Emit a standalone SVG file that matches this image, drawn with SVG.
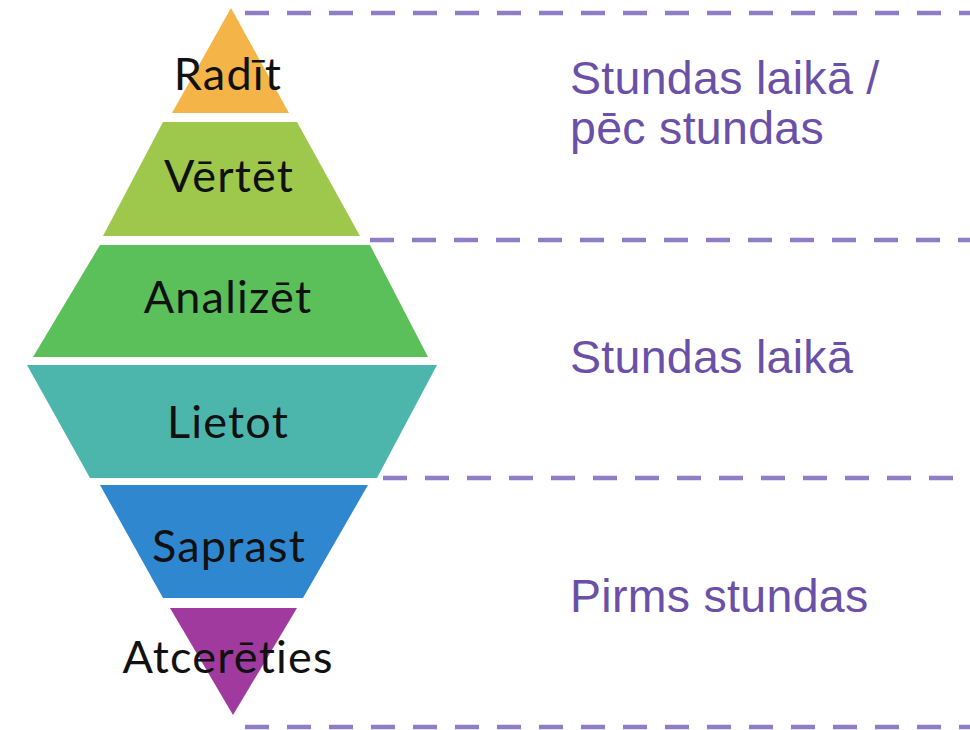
<svg xmlns="http://www.w3.org/2000/svg" width="970" height="730" viewBox="0 0 970 730">
<style>
.lvl{font-family:Lato,"Open Sans","DejaVu Sans",sans-serif;font-size:45px;letter-spacing:1.2px;fill:#111;text-anchor:middle}
.phase{font-family:"Liberation Sans",Arial,sans-serif;font-size:46.5px;letter-spacing:0.3px;fill:#6A50A7}
.dash{stroke:#8F7DC6;stroke-width:4.5;stroke-dasharray:24 18;fill:none}
</style>
<rect width="970" height="730" fill="#ffffff"/>
<g id="connectors">
<line class="dash" x1="245" y1="13" x2="970" y2="13"/>
<line class="dash" x1="370" y1="240" x2="970" y2="240"/>
<line class="dash" x1="383" y1="478" x2="970" y2="478"/>
<line class="dash" x1="245" y1="727" x2="970" y2="727"/>
</g>
<g id="radit">
<polygon points="231,8 289,113 172,113" fill="#F4B447"/>
<text class="lvl" x="228" y="90">Radīt</text>
</g>
<g id="vertet">
<polygon points="163,122 297,122 360,236 103,236" fill="#9DC84B"/>
<text class="lvl" x="229" y="192">Vērtēt</text>
</g>
<g id="analizet">
<polygon points="100,245 370,245 428,357 33,357" fill="#5BBF5A"/>
<text class="lvl" x="228" y="313">Analizēt</text>
</g>
<g id="lietot">
<polygon points="27,365 437,365 377,478 90,478" fill="#4DB6AC"/>
<text class="lvl" x="228" y="438">Lietot</text>
</g>
<g id="saprast">
<polygon points="100,485 368,485 303,598 163,598" fill="#2F87D0"/>
<text class="lvl" x="229" y="562">Saprast</text>
</g>
<g id="atceraties">
<polygon points="170,608 297,608 233,715" fill="#A13A9E"/>
<text class="lvl" x="228" y="673">Atcerēties</text>
</g>
<g id="phase1">
<text class="phase" x="570" y="94">Stundas laikā /</text>
<text class="phase" x="570" y="144">pēc stundas</text>
</g>
<g id="phase2">
<text class="phase" x="570" y="373">Stundas laikā</text>
</g>
<g id="phase3">
<text class="phase" x="570" y="612">Pirms stundas</text>
</g>
</svg>
